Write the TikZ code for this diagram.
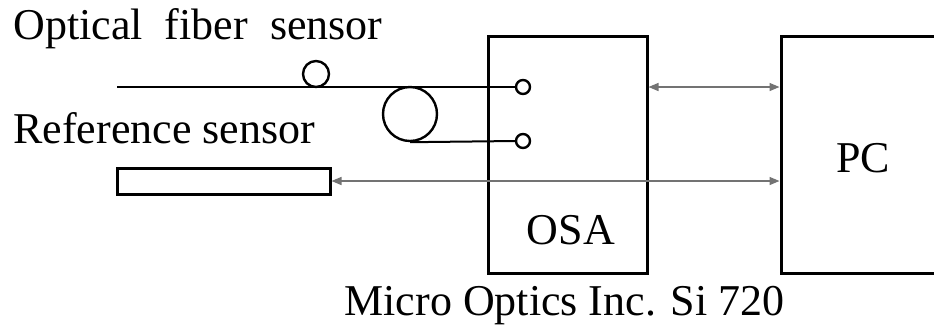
\documentclass[tikz,border=0pt]{standalone}
\usepackage{fontspec}
\setmainfont{Liberation Serif}
\usetikzlibrary{arrows.meta,positioning,calc}

\begin{document}
\begin{tikzpicture}[
    x=0.5pt, y=-0.5pt,
    txt/.style={font=\fontsize{22}{26}\selectfont, inner sep=0pt},
    unitbox/.style={rectangle, draw, line width=1.5pt, minimum width=79.5pt, minimum height=118.5pt, inner sep=0pt},
    port/.style={circle, draw, line width=1.2pt, minimum size=7pt, inner sep=0pt},
    coil/.style={circle, draw, line width=1.2pt, inner sep=0pt},
    fiber/.style={line width=1pt},
    link/.style={{Triangle[length=5pt,width=4pt]}-{Triangle[length=5pt,width=4pt]}, line width=0.7pt, black!55}
]
\useasboundingbox (0,0) rectangle (934,329);

% instruments
\node[unitbox] (osa) at (567.5,154.5) {};
\node[unitbox, minimum width=109pt] (pc) at (890,154.5) {};
\node[txt, anchor=base] (osalbl) at (571,244) {OSA};
\node[txt, anchor=base] (pclbl) at (863,172) {PC};

% input ports
\node[port] (p1) at (523,87) {};
\node[port] (p2) at (523,141) {};

% sensors
\node[coil, minimum size=13pt] (fbg) at (316,74) {};
\node[coil, minimum size=27pt] (loop) at (410,114) {};
\node[rectangle, draw, line width=1.5pt, minimum width=106.5pt, minimum height=13pt, inner sep=0pt] (ref) at (223.5,181) {};
\coordinate (fin) at (117,87);

% labels
\node[txt, anchor=base west] (fiblbl) at (13,39) {Optical\ \ fiber\ \ sensor};
\node[txt, anchor=base west] (reflbl) at (13,143) {Reference sensor};
\node[txt, anchor=base] (osaname) at (564.5,315) {Micro Optics Inc. Si 720};

% fibers
\draw[fiber] (fin) -- (p1.west);
\draw[fiber] (loop.south) -- (p2.west);

% data links
\draw[link] (osa.east |- p1) -- (pc.west |- p1);
\draw[link] (ref.east) -- (pc.west |- ref.east);
\end{tikzpicture}
\end{document}
